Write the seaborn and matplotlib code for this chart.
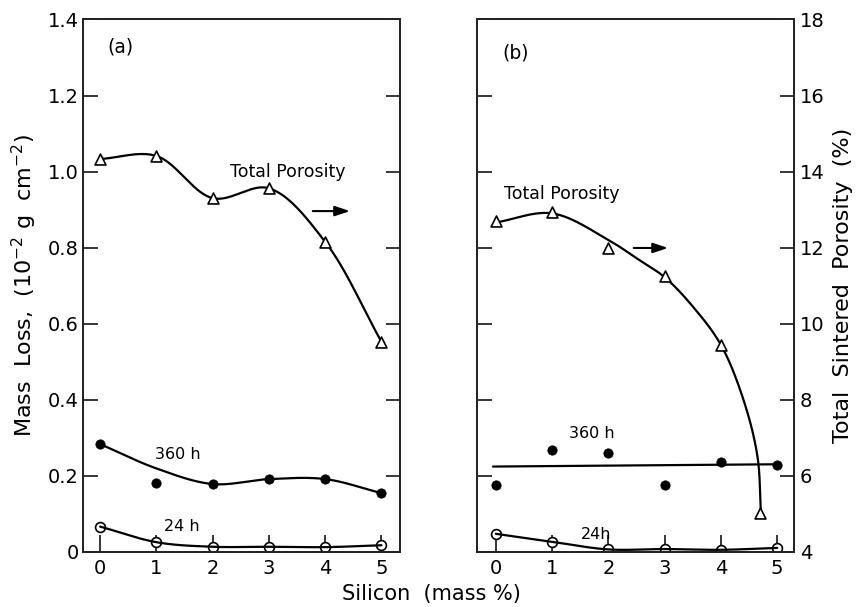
import numpy as np
import pandas as pd
import matplotlib
matplotlib.use("Agg")
import matplotlib.pyplot as plt
import seaborn as sns

# ---------------- data ----------------
silicon = [0, 1, 2, 3, 4, 5]

# panel (a)
poro_a = [14.33, 14.41, 13.30, 13.56, 12.15, 9.52]          # total porosity (%)
loss360_a = [0.283, 0.181, 0.178, 0.191, 0.191, 0.154]       # mass loss 360 h
loss24_a = [0.066, 0.025, 0.013, 0.013, 0.012, 0.017]        # mass loss 24 h
# drawn trend curve for 360 h (a) (does not pass through the x=1 point)
trend360_a_x = [0, 1, 2, 3, 4, 5]
trend360_a_y = [0.283, 0.219, 0.178, 0.191, 0.191, 0.154]

# panel (b)
silicon_poro_b = [0, 1, 2, 3, 4, 4.7]
poro_b = [12.71, 12.93, 11.98, 11.26, 9.45, 5.02]
loss360_b = [0.176, 0.268, 0.259, 0.175, 0.237, 0.228]
loss24_b = [0.047, 0.026, 0.006, 0.007, 0.005, 0.010]
# drawn trend curves for panel (b)
trendporo_b_x = [0, 1.0, 2.0, 2.5, 3.0, 3.5, 4.0, 4.4, 4.65, 4.71]
trendporo_b_y = [12.66, 12.90, 12.20, 11.72, 11.22, 10.45, 9.44, 8.00, 6.50, 5.02]
trend360_b_x = [-0.05, 5.0]
trend360_b_y = [0.224, 0.230]

loss_ticks = [0, 0.2, 0.4, 0.6, 0.8, 1.0, 1.2, 1.4]
loss_ticklabels = ["0", "0.2", "0.4", "0.6", "0.8", "1.0", "1.2", "1.4"]
poro_ticks = [4, 6, 8, 10, 12, 14, 16, 18]
poro_ticklabels = ["4", "6", "8", "10", "12", "14", "16", "18"]


def smooth(xs, ys, sx, sy, n=40):
    """Centripetal Catmull-Rom rendering of a drawn curve through knots."""
    P = np.column_stack([np.asarray(xs, float) * sx, np.asarray(ys, float) * sy])
    P = np.vstack([2 * P[0] - P[1], P, 2 * P[-1] - P[-2]])
    out = []
    for i in range(1, len(P) - 2):
        p0, p1, p2, p3 = P[i - 1], P[i], P[i + 1], P[i + 2]
        t0 = 0.0
        t1 = t0 + max(np.linalg.norm(p1 - p0), 1e-6) ** 0.5
        t2 = t1 + max(np.linalg.norm(p2 - p1), 1e-6) ** 0.5
        t3 = t2 + max(np.linalg.norm(p3 - p2), 1e-6) ** 0.5
        t = np.linspace(t1, t2, n)[:, None]
        A1 = (t1 - t) / (t1 - t0) * p0 + (t - t0) / (t1 - t0) * p1
        A2 = (t2 - t) / (t2 - t1) * p1 + (t - t1) / (t2 - t1) * p2
        A3 = (t3 - t) / (t3 - t2) * p2 + (t - t2) / (t3 - t2) * p3
        B1 = (t2 - t) / (t2 - t0) * A1 + (t - t0) / (t2 - t0) * A2
        B2 = (t3 - t) / (t3 - t1) * A2 + (t - t1) / (t3 - t1) * A3
        C = (t2 - t) / (t2 - t1) * B1 + (t - t1) / (t2 - t1) * B2
        out.append(C if i == 1 else C[1:])
    C = np.vstack(out)
    return pd.DataFrame({"x": C[:, 0] / sx, "y": C[:, 1] / sy})


# ---------------- style ----------------
sns.set_style("ticks")
plt.rcParams["font.family"] = ["DejaVu Sans"]
plt.rcParams["axes.linewidth"] = 1.3
plt.rcParams["text.color"] = "black"
plt.rcParams["axes.labelcolor"] = "black"
plt.rcParams["xtick.color"] = "black"
plt.rcParams["ytick.color"] = "black"

fig = plt.figure(figsize=(8.59, 6.07), dpi=100)
axA = fig.add_axes([0.0963, 0.0911, 0.3694, 0.8768])
axB = fig.add_axes([0.5550, 0.0911, 0.3694, 0.8768])
axA2 = axA.twinx()
axB2 = axB.twinx()

LW = 1.6
tri_kw = dict(marker="^", s=62, facecolor="white", edgecolor="black", linewidth=1.2, zorder=4)
dot_kw = dict(marker="o", s=45, color="black", edgecolor="black", zorder=4)
ring_kw = dict(marker="o", s=50, facecolor="white", edgecolor="black", linewidth=1.2, zorder=1)

# ----- panel (a)
c = smooth(silicon, poro_a, 56.3, 38.0)
sns.lineplot(data=c, x="x", y="y", ax=axA2, color="black", lw=LW, sort=False, estimator=None)
sns.scatterplot(x=silicon, y=poro_a, ax=axA2, **tri_kw)

c = smooth(trend360_a_x, trend360_a_y, 56.3, 380)
sns.lineplot(data=c, x="x", y="y", ax=axA, color="black", lw=LW, sort=False, estimator=None)
sns.scatterplot(x=silicon, y=loss360_a, ax=axA, **dot_kw)

c = smooth(silicon, loss24_a, 56.3, 380)
sns.lineplot(data=c, x="x", y="y", ax=axA, color="black", lw=LW, sort=False, estimator=None)
sns.scatterplot(x=silicon, y=loss24_a, ax=axA, **ring_kw)

# ----- panel (b)
c = smooth(trendporo_b_x, trendporo_b_y, 56.2, 38.0)
sns.lineplot(data=c, x="x", y="y", ax=axB2, color="black", lw=LW, sort=False, estimator=None)
sns.scatterplot(x=silicon_poro_b, y=poro_b, ax=axB2, **tri_kw)

sns.lineplot(x=trend360_b_x, y=trend360_b_y, ax=axB, color="black", lw=LW, estimator=None)
sns.scatterplot(x=silicon, y=loss360_b, ax=axB, **dot_kw)

c = smooth(silicon, loss24_b, 56.2, 380)
sns.lineplot(data=c, x="x", y="y", ax=axB, color="black", lw=LW, sort=False, estimator=None)
sns.scatterplot(x=silicon, y=loss24_b, ax=axB, **ring_kw)

# ----- axes setup
for ax, xl in ((axA, (-0.31, 5.33)), (axB, (-0.34, 5.30))):
    ax.set_xlim(*xl)
    ax.set_ylim(0, 1.4)
    ax.set_xticks(silicon)
    ax.set_xticklabels([str(s) for s in silicon])
    ax.set_yticks(loss_ticks)
    ax.set_xlabel("")
    ax.set_ylabel("")
    ax.tick_params(axis="x", direction="in", length=12, width=1.1, labelsize=14, pad=5, colors="black")
    ax.tick_params(axis="y", direction="in", length=11, width=1.1, labelsize=14, pad=3, colors="black")
    for s in ax.spines.values():
        s.set_visible(True)
        s.set_color("black")
        s.set_linewidth(1.3)
for ax in (axA2, axB2):
    ax.set_ylim(4, 18)
    ax.set_yticks(poro_ticks)
    ax.set_ylabel("")
    ax.tick_params(axis="y", direction="in", length=10, width=1.1, labelsize=14, pad=4, colors="black")

axA.set_yticklabels(loss_ticklabels)
axA2.set_yticklabels([])
axB.set_yticklabels([])
axB2.set_yticklabels(poro_ticklabels)

axA.set_ylabel("Mass  Loss,  (10$^{-2}$ g  cm$^{-2}$)", fontsize=16, labelpad=6, color="black")
axB2.set_ylabel("Total  Sintered  Porosity  (%)", fontsize=16, labelpad=6, color="black")
fig.text(0.502, 0.021, "Silicon  (mass %)", ha="center", va="center", fontsize=15, color="black")

# annotations
axA.text(0.12, 1.328, "(a)", fontsize=13.5, va="center")
axB.text(0.12, 1.312, "(b)", fontsize=13.5, va="center")
axA2.text(2.31, 13.99, "Total Porosity", fontsize=12.5, va="center")
axB2.text(0.14, 13.41, "Total Porosity", fontsize=12.5, va="center")
axA.text(0.98, 0.257, "360 h", fontsize=11.5, va="center")
axA.text(1.14, 0.065, "24 h", fontsize=11.5, va="center")
axB.text(1.30, 0.310, "360 h", fontsize=11.5, va="center")
axB.text(1.51, 0.044, "24h", fontsize=11.5, va="center")

arrow = dict(arrowstyle="-|>,head_length=0.9,head_width=0.3", color="black", lw=1.5)
axA2.annotate("", xy=(4.49, 12.96), xytext=(3.73, 12.96), arrowprops=arrow)
axB2.annotate("", xy=(3.11, 11.99), xytext=(2.40, 11.99), arrowprops=arrow)

fig.savefig("out.png", dpi=100)
